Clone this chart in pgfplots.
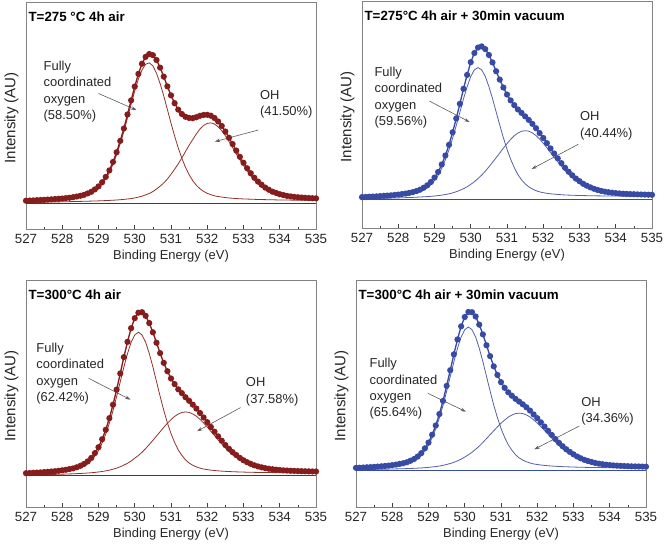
\documentclass[border=0pt]{standalone}
\usepackage{fontspec}
\setmainfont{Liberation Sans}
\usepackage{pgfplots}
\usepackage{pgfplotstable}
\pgfplotsset{compat=1.18}
\usetikzlibrary{arrows.meta}

\definecolor{xpsred}{RGB}{135,28,28}
\definecolor{xpsredl}{RGB}{145,50,42}
\definecolor{xpsblue}{RGB}{55,75,165}
\definecolor{xpsbluel}{RGB}{85,95,170}
\definecolor{framegray}{RGB}{130,130,130}
\definecolor{arrowgray}{RGB}{90,90,90}

% columns: x = binding energy, T = measured/envelope, A = lattice O component, B = OH component
\pgfplotstableread{
x T A B
527.0 13.01 12.72 12.29
527.1 13.08 12.78 12.31
527.2 13.16 12.85 12.33
527.3 13.24 12.92 12.35
527.4 13.33 12.99 12.38
527.5 13.40 13.05 12.40
527.6 13.50 13.13 12.43
527.7 13.61 13.22 12.46
527.8 13.73 13.32 12.49
527.9 13.84 13.42 12.51
528.0 13.96 13.52 12.54
528.1 14.13 13.66 12.58
528.2 14.30 13.81 12.61
528.3 14.55 14.03 12.65
528.4 14.82 14.28 12.68
528.5 15.15 14.58 12.72
528.6 15.53 14.93 12.76
528.7 16.16 15.52 12.81
528.8 16.85 16.18 12.85
528.9 17.90 17.19 12.90
529.0 19.20 18.46 12.94
529.1 20.97 20.17 13.01
529.2 23.28 22.42 13.08
529.3 26.11 25.19 13.15
529.4 29.73 28.74 13.23
529.5 33.93 32.85 13.33
529.6 38.84 37.66 13.44
529.7 44.19 42.87 13.59
529.8 50.25 48.78 13.75
529.9 56.33 54.69 13.93
530.0 62.31 60.40 14.21
530.1 67.76 65.51 14.56
530.2 72.16 69.52 14.96
530.3 75.13 71.93 15.53
530.4 76.34 72.54 16.14
530.5 75.85 71.25 16.95
530.6 73.76 68.06 18.06
530.7 70.47 63.57 19.27
530.8 66.58 58.28 20.68
530.9 62.39 52.39 22.39
531.0 58.50 46.50 24.40
531.1 55.11 40.91 26.61
531.2 52.32 35.82 28.92
531.3 50.43 31.33 31.53
531.4 49.24 27.44 34.24
531.5 48.75 24.25 36.95
531.6 48.66 21.66 39.46
531.7 49.07 19.67 41.87
531.8 49.68 18.18 43.98
531.9 50.04 17.04 45.49
532.0 50.10 16.20 46.40
532.1 49.71 15.61 46.61
532.2 48.72 15.12 46.12
532.3 47.23 14.83 44.93
532.4 45.29 14.59 43.24
532.5 42.88 14.38 41.05
532.6 40.19 14.19 38.56
532.7 37.47 14.07 35.97
532.8 34.65 13.95 33.28
532.9 31.96 13.86 30.69
533.0 29.38 13.78 28.20
533.1 27.02 13.72 25.91
533.2 24.87 13.67 23.82
533.3 22.91 13.61 21.93
533.4 21.26 13.56 20.34
533.5 19.91 13.51 19.05
533.6 18.68 13.48 17.86
533.7 17.74 13.44 16.97
533.8 16.91 13.41 16.18
533.9 16.37 13.37 15.69
534.0 15.84 13.34 15.20
534.1 15.47 13.32 14.86
534.2 15.10 13.30 14.52
534.3 14.88 13.28 14.33
534.4 14.66 13.26 14.14
534.5 14.52 13.24 14.03
534.6 14.39 13.23 13.92
534.7 14.27 13.22 13.82
534.8 14.16 13.21 13.73
534.9 14.10 13.21 13.68
535.0 14.03 13.20 13.63
}\tabA

\pgfplotstableread{
x T A B
527.0 13.60 13.22 12.88
527.1 13.69 13.29 12.92
527.2 13.77 13.35 12.95
527.3 13.86 13.42 12.99
527.4 13.94 13.48 13.02
527.5 14.06 13.57 13.07
527.6 14.16 13.65 13.10
527.7 14.28 13.74 13.15
527.8 14.39 13.83 13.18
527.9 14.56 13.98 13.22
528.0 14.73 14.12 13.26
528.1 14.95 14.30 13.32
528.2 15.16 14.47 13.37
528.3 15.46 14.72 13.44
528.4 15.81 15.02 13.50
528.5 16.26 15.41 13.58
528.6 16.88 15.97 13.65
528.7 17.73 16.74 13.75
528.8 18.80 17.73 13.84
528.9 20.27 19.09 13.97
529.0 22.20 20.90 14.10
529.1 24.68 23.22 14.28
529.2 27.99 26.33 14.49
529.3 31.95 30.05 14.75
529.4 36.66 34.46 15.06
529.5 42.18 39.58 15.48
529.6 48.29 45.19 15.99
529.7 54.71 51.01 16.61
529.8 61.32 56.92 17.32
529.9 67.44 62.24 18.14
530.0 73.05 66.75 19.25
530.1 77.07 69.67 20.37
530.2 79.48 70.68 21.78
530.3 80.00 69.70 23.30
530.4 78.81 66.81 25.01
530.5 76.23 62.33 26.93
530.6 72.94 57.04 28.94
530.7 69.06 51.16 30.96
530.8 65.37 45.37 33.07
530.9 61.89 39.79 35.19
531.0 58.80 34.70 37.20
531.1 56.22 30.32 39.02
531.2 54.13 26.63 40.63
531.3 52.25 23.55 41.85
531.4 50.72 21.26 42.62
531.5 49.18 19.48 42.88
531.6 47.61 18.15 42.65
531.7 45.89 17.19 41.91
531.8 43.95 16.45 40.72
531.9 41.82 15.92 39.14
532.0 39.66 15.56 37.35
532.1 37.39 15.29 35.37
532.2 35.07 15.07 33.28
532.3 32.83 14.93 31.20
532.4 30.68 14.78 29.21
532.5 28.57 14.67 27.23
532.6 26.55 14.55 25.34
532.7 24.79 14.49 23.66
532.8 23.23 14.43 22.17
532.9 21.78 14.38 20.79
533.0 20.62 14.32 19.70
533.1 19.49 14.29 18.62
533.2 18.65 14.25 17.83
533.3 17.92 14.22 17.15
533.4 17.28 14.18 16.56
533.5 16.76 14.16 16.08
533.6 16.34 14.14 15.69
533.7 16.02 14.12 15.41
533.8 15.76 14.10 15.18
533.9 15.55 14.09 15.00
534.0 15.37 14.07 14.85
534.1 15.24 14.06 14.75
534.2 15.11 14.04 14.65
534.3 15.03 14.04 14.59
534.4 14.94 14.03 14.52
534.5 14.89 14.04 14.48
534.6 14.82 14.03 14.43
534.7 14.77 14.03 14.40
534.8 14.72 14.03 14.36
534.9 14.68 14.03 14.34
535.0 14.63 14.02 14.31
}\tabB

\pgfplotstableread{
x T A B
527.0 14.89 14.50 14.09
527.1 14.97 14.56 14.12
527.2 15.07 14.64 14.16
527.3 15.16 14.71 14.19
527.4 15.26 14.79 14.22
527.5 15.38 14.88 14.27
527.6 15.50 14.98 14.30
527.7 15.63 15.08 14.34
527.8 15.78 15.21 14.37
527.9 15.96 15.36 14.42
528.0 16.18 15.54 14.47
528.1 16.41 15.73 14.52
528.2 16.72 16.00 14.58
528.3 17.02 16.26 14.63
528.4 17.50 16.68 14.70
528.5 18.15 17.27 14.78
528.6 18.97 18.01 14.87
528.7 20.07 19.02 14.97
528.8 21.60 20.43 15.10
528.9 23.75 22.45 15.25
529.0 26.34 24.86 15.44
529.1 29.85 28.17 15.65
529.2 34.02 32.09 15.92
529.3 39.14 36.90 16.24
529.4 45.06 42.41 16.66
529.5 51.73 48.63 17.13
529.6 58.84 55.14 17.74
529.7 66.05 61.65 18.45
529.8 72.76 67.56 19.26
529.9 78.78 72.58 20.28
530.0 83.19 75.79 21.49
530.1 85.60 77.00 22.70
530.2 85.82 75.82 24.12
530.3 84.23 72.63 25.73
530.4 81.04 67.64 27.54
530.5 76.96 61.76 29.36
530.6 72.37 55.27 31.27
530.7 67.78 48.78 33.18
530.8 63.49 42.59 35.09
530.9 59.81 37.11 36.91
531.0 56.62 32.32 38.52
531.1 54.13 28.43 39.93
531.2 51.85 25.15 40.95
531.3 50.16 22.76 41.66
531.4 48.37 20.77 41.87
531.5 46.79 19.39 41.69
531.6 45.10 18.40 41.00
531.7 43.38 17.68 40.01
531.8 41.42 17.12 38.62
531.9 39.43 16.73 37.04
532.0 37.39 16.49 35.25
532.1 35.25 16.25 33.36
532.2 33.19 16.09 31.48
532.3 31.13 15.93 29.59
532.4 29.21 15.81 27.80
532.5 27.31 15.71 26.02
532.6 25.63 15.63 24.43
532.7 24.15 15.55 23.04
532.8 22.89 15.49 21.85
532.9 21.64 15.44 20.67
533.0 20.59 15.39 19.68
533.1 19.74 15.34 18.89
533.2 19.01 15.31 18.21
533.3 18.37 15.27 17.62
533.4 17.89 15.24 17.18
533.5 17.47 15.23 16.79
533.6 17.13 15.20 16.49
533.7 16.86 15.18 16.25
533.8 16.64 15.16 16.06
533.9 16.45 15.15 15.90
534.0 16.29 15.12 15.78
534.1 16.15 15.10 15.67
534.2 16.06 15.10 15.60
534.3 15.97 15.09 15.53
534.4 15.90 15.08 15.48
534.5 15.84 15.08 15.44
534.6 15.80 15.08 15.41
534.7 15.75 15.07 15.38
534.8 15.71 15.07 15.35
534.9 15.67 15.07 15.33
535.0 15.64 15.07 15.31
}\tabC

\pgfplotstableread{
x T A B
527.0 17.24 16.90 16.44
527.1 17.31 16.96 16.46
527.2 17.40 17.03 16.49
527.3 17.49 17.10 16.52
527.4 17.58 17.18 16.54
527.5 17.68 17.26 16.57
527.6 17.81 17.36 16.61
527.7 17.93 17.46 16.64
527.8 18.08 17.59 16.67
527.9 18.24 17.73 16.70
528.0 18.45 17.91 16.74
528.1 18.68 18.10 16.79
528.2 18.97 18.36 16.83
528.3 19.27 18.62 16.88
528.4 19.72 19.04 16.92
528.5 20.36 19.62 16.99
528.6 21.15 20.36 17.05
528.7 22.23 21.37 17.13
528.8 23.72 22.78 17.22
528.9 25.84 24.79 17.34
529.0 28.37 27.20 17.47
529.1 31.84 30.51 17.64
529.2 35.93 34.42 17.83
529.3 40.96 39.23 18.06
529.4 46.74 44.74 18.34
529.5 53.35 50.95 18.75
529.6 60.26 57.46 19.16
529.7 67.27 63.97 19.67
529.8 73.83 69.88 20.33
529.9 79.59 74.89 21.09
530.0 83.70 78.10 22.00
530.1 85.91 79.31 23.01
530.2 85.82 78.12 24.12
530.3 83.93 74.93 25.43
530.4 80.34 69.94 26.84
530.5 76.05 64.05 28.45
530.6 71.26 57.56 30.16
530.7 66.47 51.07 31.87
530.8 61.98 44.88 33.58
530.9 58.19 39.39 35.29
531.0 55.00 34.60 36.90
531.1 52.51 30.71 38.31
531.2 50.52 27.42 39.62
531.3 49.03 25.03 40.53
531.4 47.64 23.04 41.14
531.5 46.45 21.65 41.35
531.6 45.26 20.66 41.16
531.7 43.94 19.94 40.57
531.8 42.48 19.38 39.68
531.9 40.78 18.98 38.39
532.0 39.14 18.74 37.00
532.1 37.30 18.50 35.41
532.2 35.43 18.33 33.72
532.3 33.57 18.17 32.03
532.4 31.75 18.05 30.34
532.5 29.94 17.94 28.65
532.6 28.26 17.86 27.06
532.7 26.78 17.78 25.67
532.8 25.42 17.72 24.38
532.9 24.26 17.66 23.29
533.0 23.21 17.61 22.30
533.1 22.26 17.56 21.41
533.2 21.47 17.52 20.67
533.3 20.78 17.48 20.03
533.4 20.25 17.45 19.54
533.5 19.83 17.43 19.15
533.6 19.40 17.40 18.76
533.7 19.11 17.38 18.50
533.8 18.87 17.36 18.29
533.9 18.67 17.34 18.12
534.0 18.48 17.31 17.97
534.1 18.34 17.29 17.86
534.2 18.22 17.28 17.76
534.3 18.13 17.27 17.69
534.4 18.05 17.26 17.63
534.5 17.99 17.25 17.59
534.6 17.93 17.25 17.54
534.7 17.89 17.24 17.52
534.8 17.85 17.24 17.49
534.9 17.81 17.23 17.46
535.0 17.77 17.23 17.44
}\tabD

\pgfplotsset{
  xpspanel/.style={
    scale only axis, width=217.5pt, height=170.25pt,
    xmin=527, xmax=535, ymin=0, ymax=100,
    xtick={527,528,...,535}, minor x tick num=1,
    ytick=\empty, xtick pos=left, tick align=inside,
    major tick length=3pt, minor tick length=1.6pt,
    axis line style={framegray, line width=0.7pt},
    tick style={black!75, line width=0.5pt},
    xlabel={Binding Energy (eV)}, ylabel={Intensity (AU)},
    xlabel style={font=\fontsize{9.7}{11}\selectfont, text=black!85},
    ylabel style={font=\fontsize{11.3}{13}\selectfont, text=black!85},
    tick label style={font=\fontsize{10}{11}\selectfont, text=black!85},
    /pgf/number format/assume math mode=true,
    xticklabel style={/pgf/number format/1000 sep={}},
    xlabel style={at={(axis description cs:0.5,-0.12)}, anchor=center},
    ylabel style={at={(axis description cs:-0.05,0.49)}, anchor=center},
  },
}
\tikzset{
  note/.style={font=\fontsize{9.7}{12.2}\selectfont, align=left, inner sep=0pt, anchor=west, text=black!85},
  ttl/.style={font=\bfseries\fontsize{10}{12}\selectfont, inner sep=0pt, anchor=north west},
  arr/.style={arrowgray, line width=0.45pt, -{Stealth[length=4pt,width=2.6pt]}},
}

\begin{document}
\begin{tikzpicture}
\path[use as bounding box] (0,0) rectangle (499.5pt,-413.25pt);

% top left
\begin{axis}[xpspanel, at={(19.5pt,-1.5pt)}, anchor=north west, ymin=0.8, ymax=98.8]
\addplot[xpsredl, line width=0.6pt] table[x=x,y=A] {\tabA};
\addplot[xpsredl, line width=0.6pt] table[x=x,y=B] {\tabA};
\addplot[xpsred, line width=1pt] coordinates {(527,11.9) (535,11.9)};
\addplot[xpsred, line width=1pt, mark=*, mark size=1.8pt, mark options={fill=xpsred, draw=xpsred}] table[x=x,y=T] {\tabA};
\node[ttl] at (rel axis cs:0.008,0.958) {T=275 °C 4h air};
\node[note] at (rel axis cs:0.060,0.605) {Fully\\coordinated\\oxygen\\(58.50\%)};
\node[note] at (rel axis cs:0.806,0.550) {OH\\(41.50\%)};
\draw[arr] (rel axis cs:0.250,0.597) -- (rel axis cs:0.381,0.524);
\draw[arr] (rel axis cs:0.801,0.436) -- (rel axis cs:0.651,0.385);
\end{axis}

% top right
\begin{axis}[xpspanel, at={(271.5pt,-0.75pt)}, anchor=north west]
\addplot[xpsbluel, line width=0.6pt] table[x=x,y=A] {\tabB};
\addplot[xpsbluel, line width=0.6pt] table[x=x,y=B] {\tabB};
\addplot[xpsblue, line width=1pt] coordinates {(527,12.5) (535,12.5)};
\addplot[xpsblue, line width=1pt, mark=*, mark size=1.8pt, mark options={fill=xpsblue, draw=xpsblue}] table[x=x,y=T] {\tabB};
\node[ttl] at (rel axis cs:0.008,0.958) {T=275°C 4h air + 30min vacuum};
\node[note] at (rel axis cs:0.0425,0.574) {Fully\\coordinated\\oxygen\\(59.56\%)};
\node[note] at (rel axis cs:0.751,0.450) {OH\\(40.44\%)};
\draw[arr] (rel axis cs:0.2325,0.559) -- (rel axis cs:0.371,0.467);
\draw[arr] (rel axis cs:0.746,0.369) -- (rel axis cs:0.585,0.260);
\end{axis}

% bottom left
\begin{axis}[xpspanel, at={(19.5pt,-210pt)}, anchor=north west]
\addplot[xpsredl, line width=0.6pt] table[x=x,y=A] {\tabC};
\addplot[xpsredl, line width=0.6pt] table[x=x,y=B] {\tabC};
\addplot[xpsred, line width=1pt] coordinates {(527,14.0) (535,14.0)};
\addplot[xpsred, line width=1pt, mark=*, mark size=1.8pt, mark options={fill=xpsred, draw=xpsred}] table[x=x,y=T] {\tabC};
\node[ttl] at (rel axis cs:0.008,0.958) {T=300°C 4h air};
\node[note] at (rel axis cs:0.035,0.587) {Fully\\coordinated\\oxygen\\(62.42\%)};
\node[note] at (rel axis cs:0.7575,0.508) {OH\\(37.58\%)};
\draw[arr] (rel axis cs:0.216,0.567) -- (rel axis cs:0.360,0.473);
\draw[arr] (rel axis cs:0.740,0.438) -- (rel axis cs:0.590,0.334);
\end{axis}

% bottom right
\begin{axis}[xpspanel, at={(267pt,-210pt)}, anchor=north west]
\addplot[xpsbluel, line width=0.6pt] table[x=x,y=A] {\tabD};
\addplot[xpsbluel, line width=0.6pt] table[x=x,y=B] {\tabD};
\addplot[xpsblue, line width=1pt] coordinates {(527,16.0) (535,16.0)};
\addplot[xpsblue, line width=1pt, mark=*, mark size=1.8pt, mark options={fill=xpsblue, draw=xpsblue}] table[x=x,y=T] {\tabD};
\node[ttl] at (rel axis cs:0.008,0.958) {T=300°C 4h air + 30min vacuum};
\node[note] at (rel axis cs:0.046,0.520) {Fully\\coordinated\\oxygen\\(65.64\%)};
\node[note] at (rel axis cs:0.776,0.420) {OH\\(34.36\%)};
\draw[arr] (rel axis cs:0.2475,0.501) -- (rel axis cs:0.379,0.420);
\draw[arr] (rel axis cs:0.770,0.357) -- (rel axis cs:0.615,0.254);
\end{axis}
\end{tikzpicture}
\end{document}
